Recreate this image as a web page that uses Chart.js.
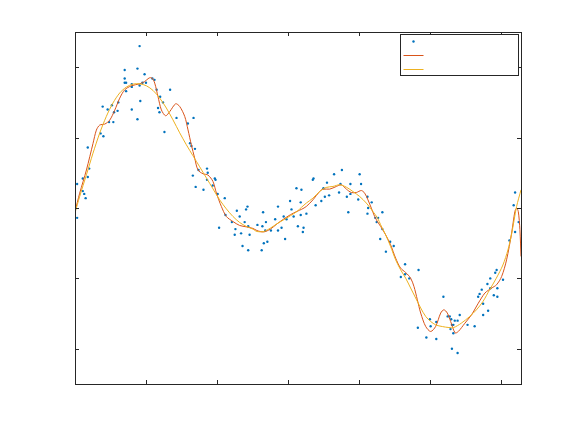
<!DOCTYPE html>
<html>
<head>
<meta charset="utf-8">
<script src="https://cdn.jsdelivr.net/npm/chart.js"></script>
<style>
  body { margin: 0; background: #fff; }
  #wrap { width: 576px; height: 432px; }
</style>
</head>
<body>
<div id="wrap"><canvas id="chart" width="576" height="432"></canvas></div>
<script>
// noisy samples
const scatterX = [0.03,0.03,0.11,0.11,0.13,0.15,0.18,0.20,0.18,0.36,0.40,0.39,0.46,0.48,0.52,0.54,0.55,0.60,0.61,0.70,0.70,0.70,0.72,0.72,0.80,0.80,0.80,0.88,0.88,0.91,0.91,0.92,0.98,1.00,0.95,1.09,1.12,1.15,1.20,1.24,1.17,1.19,1.34,1.26,1.43,1.59,1.67,1.62,1.64,1.69,1.66,1.70,1.74,1.86,1.87,1.81,1.86,1.97,1.98,1.94,2.01,2.11,2.12,2.03,2.21,2.26,2.28,2.32,2.25,2.34,2.39,2.41,2.43,2.44,2.46,2.36,2.44,2.57,2.64,2.65,2.69,2.63,2.66,2.71,2.68,2.76,2.82,2.86,2.86,2.91,2.94,2.96,2.98,3.03,3.05,3.08,3.12,3.14,3.18,3.18,3.19,3.22,3.21,3.26,3.35,3.36,3.39,3.47,3.50,3.55,3.52,3.58,3.65,3.72,3.74,3.76,3.83,3.85,3.88,3.88,3.99,4.01,4.03,4.12,4.13,4.18,4.12,4.23,4.25,4.27,4.33,4.33,4.30,4.44,4.38,4.49,4.65,4.59,4.65,4.71,4.84,4.83,4.95,5.00,5.01,5.09,5.09,5.19,5.25,5.28,5.30,5.31,5.33,5.31,5.39,5.35,5.39,5.42,5.29,5.33,5.53,5.63,5.68,5.70,5.73,5.75,5.75,5.82,5.81,5.85,5.85,5.90,5.92,5.94,5.95,5.95,6.03,6.12,6.18,6.20,6.20,6.25];
const scatterY = [-0.07,0.17,0.21,0.12,0.10,0.07,0.22,0.28,0.43,0.53,0.51,0.72,0.70,0.61,0.73,0.61,0.68,0.69,0.75,0.98,0.92,0.89,0.89,0.83,0.88,0.86,0.70,0.63,0.99,1.15,0.87,0.76,0.95,0.89,0.89,0.92,0.91,0.84,0.79,0.75,0.71,0.68,0.84,0.54,0.64,0.60,0.64,0.46,0.44,0.42,0.23,0.15,0.27,0.28,0.25,0.13,0.20,0.21,0.20,0.16,0.10,0.07,-0.05,-0.14,-0.10,-0.15,-0.02,-0.06,-0.19,-0.18,-0.10,-0.01,0.01,-0.13,-0.19,-0.27,-0.30,-0.12,-0.13,-0.03,-0.10,-0.30,-0.25,-0.24,-0.16,-0.16,-0.08,-0.16,0.01,-0.14,-0.06,-0.22,-0.08,0.05,-0.01,-0.06,0.14,-0.13,0.04,-0.05,0.13,-0.14,-0.17,-0.04,0.20,0.21,0.02,0.05,0.14,0.18,0.08,0.09,0.24,0.11,0.17,0.27,0.08,-0.03,0.17,0.10,0.06,0.24,0.17,0.08,0.00,0.04,-0.04,-0.07,-0.10,-0.07,-0.03,-0.15,-0.22,-0.24,-0.31,-0.27,-0.40,-0.49,-0.47,-0.50,-0.44,-0.85,-0.92,-0.79,-0.84,-0.93,-0.81,-0.63,-0.77,-0.77,-0.79,-0.83,-0.89,-1.00,-1.03,-0.80,-0.80,-0.76,-0.86,-0.83,-0.83,-0.84,-0.63,-0.61,-0.58,-0.68,-0.76,-0.73,-0.54,-0.50,-0.57,-0.62,-0.46,-0.44,-0.57,-0.63,-0.51,-0.23,0.02,0.11,-0.17,-0.10];

// tight fit (red)
const redX = [0,0.066,0.161,0.254,0.301,0.348,0.419,0.489,0.560,0.630,0.700,0.794,0.911,0.982,1.042,1.085,1.123,1.169,1.217,1.277,1.335,1.418,1.475,1.546,1.592,1.639,1.686,1.732,1.803,1.873,1.944,1.992,2.062,2.132,2.225,2.320,2.414,2.507,2.563,2.658,2.752,2.845,2.939,3.034,3.127,3.193,3.259,3.352,3.446,3.493,3.587,3.682,3.752,3.823,3.893,3.963,4.034,4.080,4.127,4.175,4.221,4.263,4.306,4.376,4.446,4.517,4.587,4.658,4.728,4.775,4.823,4.870,4.940,5.011,5.081,5.152,5.197,5.245,5.292,5.355,5.400,5.493,5.587,5.682,5.775,5.869,5.939,6.010,6.080,6.151,6.197,6.221,6.245,6.268,6.2832];
const redY = [-0.025,0.105,0.270,0.459,0.553,0.589,0.596,0.624,0.695,0.780,0.839,0.868,0.882,0.898,0.923,0.923,0.887,0.792,0.697,0.655,0.685,0.740,0.721,0.650,0.555,0.449,0.354,0.271,0.243,0.234,0.188,0.106,0.011,-0.060,-0.096,-0.124,-0.134,-0.145,-0.160,-0.170,-0.150,-0.113,-0.079,-0.048,-0.024,-0.009,0.011,0.058,0.117,0.134,0.134,0.153,0.165,0.134,0.110,0.110,0.124,0.106,0.058,-0.001,-0.060,-0.098,-0.131,-0.190,-0.261,-0.356,-0.427,-0.458,-0.498,-0.557,-0.652,-0.746,-0.841,-0.877,-0.841,-0.746,-0.723,-0.746,-0.806,-0.887,-0.877,-0.818,-0.758,-0.676,-0.604,-0.569,-0.545,-0.487,-0.368,-0.178,-0.025,-0.001,-0.025,-0.154,-0.344];

// smooth fit (yellow)
const yellowX = [0,0.066,0.161,0.254,0.348,0.442,0.535,0.630,0.724,0.817,0.911,1.006,1.099,1.193,1.287,1.380,1.475,1.569,1.662,1.756,1.851,1.944,2.038,2.132,2.225,2.320,2.414,2.507,2.563,2.658,2.752,2.845,2.939,3.034,3.127,3.193,3.259,3.352,3.446,3.539,3.634,3.728,3.823,3.915,4.010,4.104,4.197,4.263,4.306,4.376,4.446,4.517,4.587,4.658,4.728,4.799,4.870,4.940,5.011,5.081,5.175,5.268,5.335,5.442,5.559,5.654,5.746,5.841,5.935,6.028,6.099,6.151,6.221,6.2832];
const yellowY = [-0.034,0.082,0.236,0.390,0.532,0.651,0.746,0.817,0.859,0.880,0.882,0.868,0.835,0.781,0.710,0.626,0.534,0.449,0.371,0.293,0.214,0.136,0.058,-0.006,-0.060,-0.103,-0.131,-0.150,-0.167,-0.167,-0.143,-0.112,-0.084,-0.055,-0.025,0.006,0.035,0.070,0.117,0.146,0.153,0.165,0.148,0.117,0.082,0.035,-0.025,-0.072,-0.119,-0.190,-0.273,-0.368,-0.439,-0.498,-0.568,-0.639,-0.710,-0.770,-0.806,-0.830,-0.842,-0.849,-0.849,-0.818,-0.771,-0.724,-0.665,-0.581,-0.499,-0.405,-0.298,-0.185,0.010,0.129];

const xTicks = [0, 1, 2, 3, 4, 5, 6];
const yTicks = [-1, -0.5, 0, 0.5, 1];

const toPts = (xs, ys) => xs.map((x, i) => ({ x, y: ys[i] }));

const axisColor = '#262626';
const blue = '#0072BD', red = '#D95319', yellow = '#EDB120';

// box, inward ticks on all sides, and the empty legend box
const axesBox = {
  id: 'axesBox',
  afterDraw(chart) {
    const { ctx, chartArea: a, scales } = chart;
    const tl = 4;
    ctx.save();
    ctx.strokeStyle = axisColor;
    ctx.lineWidth = 1;
    ctx.beginPath();
    for (const v of xTicks) {
      const px = Math.round(scales.x.getPixelForValue(v)) + 0.5;
      ctx.moveTo(px, a.bottom); ctx.lineTo(px, a.bottom - tl);
      ctx.moveTo(px, a.top); ctx.lineTo(px, a.top + tl);
    }
    for (const v of yTicks) {
      const py = Math.round(scales.y.getPixelForValue(v)) + 0.5;
      ctx.moveTo(a.left, py); ctx.lineTo(a.left + tl, py);
      ctx.moveTo(a.right, py); ctx.lineTo(a.right - tl, py);
    }
    ctx.stroke();
    ctx.strokeRect(Math.round(a.left) + 0.5, Math.round(a.top) + 0.5,
      Math.round(a.right - a.left), Math.round(a.bottom - a.top));

    // legend
    const lw = 118, lh = 41;
    const lx = Math.round(a.right - 3 - lw) + 0.5, ly = Math.round(a.top + 2) + 0.5;
    ctx.fillStyle = '#fff';
    ctx.fillRect(lx, ly, lw, lh);
    ctx.strokeRect(lx, ly, lw, lh);
    ctx.fillStyle = blue;
    ctx.beginPath();
    ctx.arc(lx + 13, ly + 7, 1.2, 0, Math.PI * 2);
    ctx.fill();
    ctx.lineWidth = 1;
    ctx.strokeStyle = red;
    ctx.beginPath(); ctx.moveTo(lx + 3, ly + 21); ctx.lineTo(lx + 23, ly + 21); ctx.stroke();
    ctx.strokeStyle = yellow;
    ctx.beginPath(); ctx.moveTo(lx + 3, ly + 35); ctx.lineTo(lx + 23, ly + 35); ctx.stroke();
    ctx.restore();
  }
};

new Chart(document.getElementById('chart'), {
  type: 'scatter',
  data: {
    datasets: [
      {
        label: 'data',
        data: toPts(scatterX, scatterY),
        backgroundColor: blue,
        borderColor: blue,
        pointRadius: 1.2,
        pointBorderWidth: 0,
        order: 2,
      },
      {
        label: 'fit 1',
        data: toPts(redX, redY),
        showLine: true,
        borderColor: red,
        borderWidth: 1,
        pointRadius: 0,
        tension: 0.3,
        order: 1,
      },
      {
        label: 'fit 2',
        data: toPts(yellowX, yellowY),
        showLine: true,
        borderColor: yellow,
        borderWidth: 1,
        pointRadius: 0,
        tension: 0.3,
        order: 0,
      },
    ]
  },
  options: {
    responsive: false,
    animation: false,
    events: [],
    layout: { padding: { left: 67, right: 55, top: 32, bottom: 40 } },
    plugins: { legend: { display: false }, tooltip: { enabled: false } },
    scales: {
      x: {
        type: 'linear', min: 0, max: 2 * Math.PI,
        ticks: { display: false }, grid: { display: false }, border: { display: false },
      },
      y: {
        type: 'linear', min: -1.25, max: 1.25,
        ticks: { display: false }, grid: { display: false }, border: { display: false },
      }
    }
  },
  plugins: [axesBox]
});
</script>
</body>
</html>
